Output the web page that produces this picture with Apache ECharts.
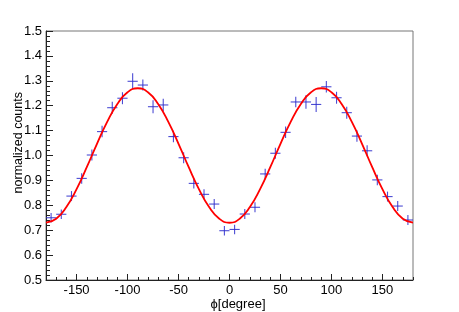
<!DOCTYPE html>
<html>
<head>
<meta charset="utf-8">
<script src="https://cdn.jsdelivr.net/npm/echarts@6/dist/echarts.min.js"></script>
<style>
html,body{margin:0;padding:0;background:#fff;}
#c{width:459px;height:312px;}
</style>
</head>
<body>
<div id="c"></div>
<script>
// ---- data ----
var binCenters = [-175,-165,-155,-145,-135,-125,-115,-105,-95,-85,-75,-65,-55,-45,-35,-25,-15,-5,
                  5,15,25,35,45,55,65,75,85,95,105,115,125,135,145,155,165,175];
var counts = [0.750,0.764,0.837,0.908,1.002,1.096,1.192,1.230,1.298,1.283,1.196,1.203,1.076,0.991,0.888,0.844,0.805,0.698,
              0.703,0.765,0.792,0.926,1.009,1.093,1.215,1.215,1.205,1.276,1.232,1.172,1.078,1.019,0.902,0.835,0.797,0.741];
var countErrors = [0.019,0.019,0.020,0.021,0.022,0.023,0.024,0.024,0.032,0.022,0.026,0.025,0.023,0.022,0.021,0.020,0.020,0.019,
                   0.019,0.020,0.020,0.021,0.022,0.023,0.021,0.027,0.030,0.023,0.024,0.024,0.023,0.022,0.021,0.020,0.020,0.020];
var binHalfWidth = 5;
var fitX = [-180,-170,-160,-150,-140,-130,-120,-110,-100,-90,-80,-70,-60,-50,-40,-30,-20,-10,0,
            10,20,30,40,50,60,70,80,90,100,110,120,130,140,150,160,170,180];
var fitY = [0.730,0.746,0.793,0.865,0.953,1.047,1.135,1.207,1.254,1.270,1.254,1.207,1.135,1.047,0.953,0.865,0.793,0.746,0.730,
            0.746,0.793,0.865,0.953,1.047,1.135,1.207,1.254,1.270,1.254,1.207,1.135,1.047,0.953,0.865,0.793,0.746,0.730];
var xTickLabels = [-150,-100,-50,0,50,100,150];
var xTitle = 'ϕ[degree]';
var yTitle = 'normalized counts';

var pointData = binCenters.map(function(x,i){ return [x, counts[i], countErrors[i]]; });
var fitData = fitX.map(function(x,i){ return [x, fitY[i]]; });

var font = 'Liberation Sans, Arial, Helvetica, sans-serif';
var axisCol = '#222';
var chart = echarts.init(document.getElementById('c'), null, {renderer:'canvas'});
chart.setOption({
  animation:false,
  backgroundColor:'#fff',
  grid:{left:46,right:46,top:31,bottom:32,show:true,borderColor:'#777',borderWidth:1,backgroundColor:'transparent'},
  xAxis:[{
    type:'value',min:-180,max:180,interval:10,
    axisLine:{show:true,onZero:false,lineStyle:{color:axisCol,width:1}},
    axisTick:{show:true,inside:true,length:6,customValues:xTickLabels,lineStyle:{color:axisCol}},
    axisLabel:{show:true,customValues:xTickLabels,margin:4,fontFamily:font,fontSize:13,color:'#000'},
    splitLine:{show:false}
  },{
    type:'value',min:-180,max:180,interval:10,position:'bottom',
    axisLine:{show:false},
    axisTick:{show:true,inside:true,length:3,lineStyle:{color:axisCol}},
    axisLabel:{show:false},
    splitLine:{show:false}
  }],
  yAxis:{
    type:'value',min:0.5,max:1.5,interval:0.1,
    axisLine:{show:true,onZero:false,lineStyle:{color:axisCol,width:1}},
    axisTick:{show:true,inside:true,length:7,lineStyle:{color:axisCol}},
    minorTick:{show:true,splitNumber:5,length:4,lineStyle:{color:axisCol}},
    axisLabel:{margin:4,fontFamily:font,fontSize:13,color:'#000',formatter:function(v){return v.toFixed(1);}},
    splitLine:{show:false}
  },
  graphic:[
    {type:'text',left:12,top:92,rotation:Math.PI/2,style:{text:yTitle,font:'12.5px '+font,fill:'#000'}, z:10},
    {type:'text',style:{text:xTitle,font:'13px '+font,fill:'#000',textAlign:'center',textVerticalAlign:'middle'},x:238,y:304,z:10}
  ],
  series:[
    {
      type:'custom',xAxisIndex:0,
      renderItem:function(params,api){
        var x=api.value(0), y=api.value(1), e=api.value(2);
        var l=api.coord([x-binHalfWidth,y]), r=api.coord([x+binHalfWidth,y]);
        var t=api.coord([x,y+e]), b=api.coord([x,y-e]);
        var st={stroke:'#2d2dcc',lineWidth:1.1,opacity:0.85};
        return {type:'group',children:[
          {type:'line',shape:{x1:l[0],y1:l[1],x2:r[0],y2:r[1]},style:st},
          {type:'line',shape:{x1:t[0],y1:t[1],x2:b[0],y2:b[1]},style:st}
        ]};
      },
      data:pointData,z:3
    },
    {
      type:'line',xAxisIndex:0,data:fitData,smooth:true,showSymbol:false,symbol:'none',
      lineStyle:{color:'#ff0000',width:1.8},z:4
    }
  ]
});
</script>
</body>
</html>
